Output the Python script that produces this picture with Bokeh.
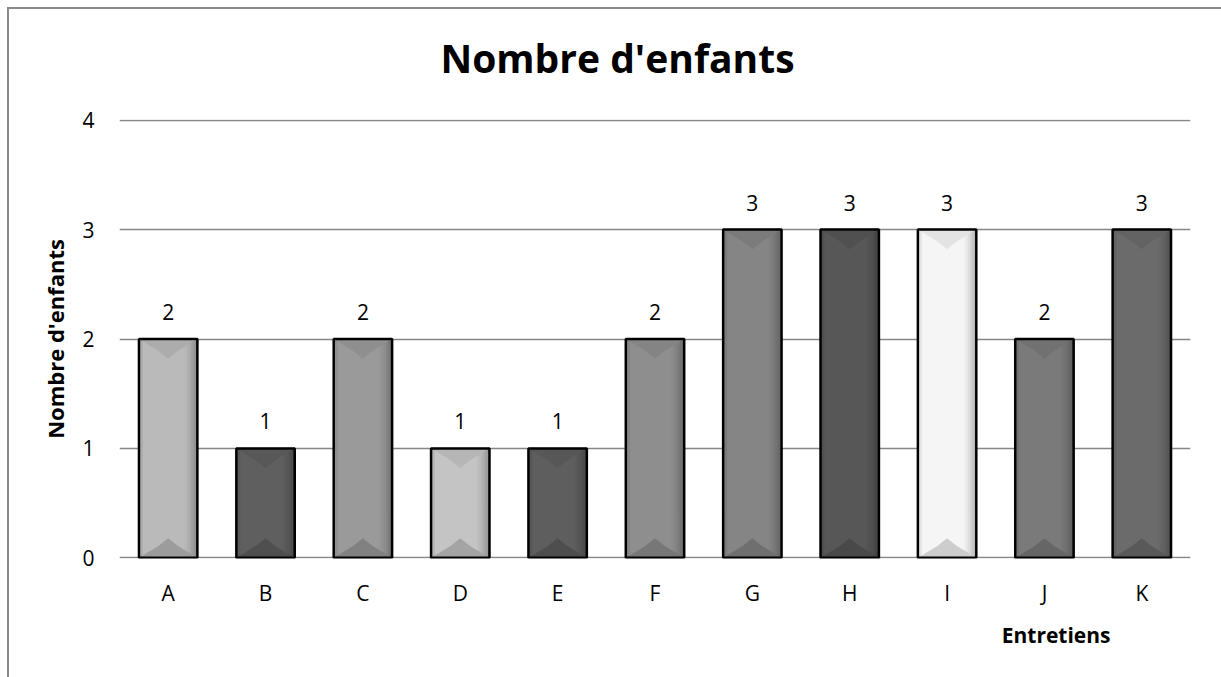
from bokeh.plotting import figure
from bokeh.models import FixedTicker, Title, ColumnDataSource, Div
from bokeh.layouts import column
from bokeh.core.properties import value as V
from bokeh.embed import file_html
from bokeh.resources import INLINE

# ---- data ----
categories = ["A", "B", "C", "D", "E", "F", "G", "H", "I", "J", "K"]
values = [2, 1, 2, 1, 1, 2, 3, 3, 3, 2, 3]
bar_colors = ["#bababa", "#5f5f5f", "#9a9a9a", "#c4c4c4", "#5e5e5e", "#8e8e8e",
              "#858585", "#575757", "#f5f5f5", "#7a7a7a", "#6b6b6b"]
y_ticks = [0, 1, 2, 3, 4]
title_text = "Nombre d'enfants"
y_label = "Nombre d'enfants"
x_label = "Entretiens"

FONT = "Open Sans"
W = 1207


def shade(hex_color, f):
    h = hex_color.lstrip("#")
    r, g, b = (int(h[i:i + 2], 16) for i in (0, 2, 4))
    r, g, b = (max(0, min(255, int(c * f))) for c in (r, g, b))
    return "#%02x%02x%02x" % (r, g, b)


xs = [i + 0.5 for i in range(len(categories))]
BW = 0.6

title_div = Div(text=title_text, width=W, height=88,
                styles={"font-family": "'Open Sans'", "font-weight": "bold",
                        "font-size": "39px", "line-height": "88px",
                        "text-align": "center", "color": "black",
                        "width": "%dpx" % W})

p = figure(width=W, height=579, output_backend="svg", toolbar_location=None,
           x_range=(0, len(categories)), y_range=(-0.006, 4.006),
           min_border_left=110, min_border_right=26, min_border_top=12,
           min_border_bottom=128, background_fill_color="white",
           border_fill_color="white")
p.outline_line_color = None

# main bars
src = ColumnDataSource(dict(x=xs, top=values, color=bar_colors,
                            label=[str(v) for v in values]))
p.vbar(x="x", top="top", bottom=0, width=BW, source=src,
       fill_color="color", line_color=None)

# right-side darker gradient strips
strip_factors = [0.98, 0.95, 0.91, 0.86, 0.8, 0.73]
sw = 0.022
for k, f in enumerate(strip_factors):
    p.vbar(x=[x + BW / 2 - sw * (len(strip_factors) - k) + sw / 2 for x in xs],
           top=values, bottom=0, width=sw,
           fill_color=[shade(c, f) for c in bar_colors], line_color=None)
# left slight darker strip
p.vbar(x=[x - BW / 2 + 0.02 for x in xs], top=values, bottom=0, width=0.04,
       fill_color=[shade(c, 0.93) for c in bar_colors], line_color=None)

# top and bottom bevels
bx, by = 0.2, 0.18
top_xs, top_ys, bot_xs, bot_ys = [], [], [], []
for x, v in zip(xs, values):
    l, r = x - BW / 2, x + BW / 2
    top_xs.append([l, r, r - bx, x, l + bx])
    top_ys.append([v, v, v - by * 0.6, v - by, v - by * 0.6])
    bot_xs.append([l, r, r - bx, x, l + bx])
    bot_ys.append([0, 0, by * 0.6, by, by * 0.6])
p.patches(top_xs, top_ys, fill_color=[shade(c, 0.93) for c in bar_colors],
          line_color=None)
p.patches(bot_xs, bot_ys, fill_color=[shade(c, 0.84) for c in bar_colors],
          line_color=None)

# outline
p.vbar(x="x", top="top", bottom=0, width=BW, source=src,
       fill_color=None, line_color="black", line_width=2.5)

# value labels
p.text(x="x", y="top", text="label", source=src, text_align="center",
       text_baseline="bottom", y_offset=-19, text_font_size="21px",
       text_font=V(FONT), text_color="black")

# axes
p.xaxis.ticker = FixedTicker(ticks=xs)
p.xaxis.major_label_overrides = {x: c for x, c in zip(xs, categories)}
p.yaxis.ticker = FixedTicker(ticks=y_ticks)
for ax in (p.xaxis, p.yaxis):
    ax.axis_line_color = None
    ax.major_tick_line_color = None
    ax.minor_tick_line_color = None
    ax.major_tick_out = 0
    ax.major_tick_in = 0
    ax.major_label_text_font = FONT
    ax.major_label_text_font_size = "21px"
    ax.major_label_text_color = "black"
p.xaxis.major_label_standoff = 20
p.yaxis.major_label_standoff = 25

p.yaxis.axis_label = y_label
p.yaxis.axis_label_text_font = FONT
p.yaxis.axis_label_text_font_style = "bold"
p.yaxis.axis_label_text_font_size = "22px"
p.yaxis.axis_label_text_color = "black"
p.yaxis.axis_label_standoff = 9

p.xgrid.grid_line_color = None
p.ygrid.grid_line_color = "#868686"
p.ygrid.grid_line_width = 1.5
p.ygrid.ticker = FixedTicker(ticks=y_ticks)

xt = Title(text=x_label, align="right", offset=80, standoff=18,
           text_font=FONT, text_font_style="bold", text_font_size="21px",
           text_color="black")
p.add_layout(xt, "below")

layout = column(title_div, p, spacing=0,
                styles={"border-left": "2px solid #8a8a8a",
                        "border-top": "2px solid #8a8a8a",
                        "border-right": "2px solid #8a8a8a",
                        "margin-left": "7px", "margin-top": "7px",
                        "background-color": "white"})

open("out.html", "w").write(file_html(layout, INLINE))
